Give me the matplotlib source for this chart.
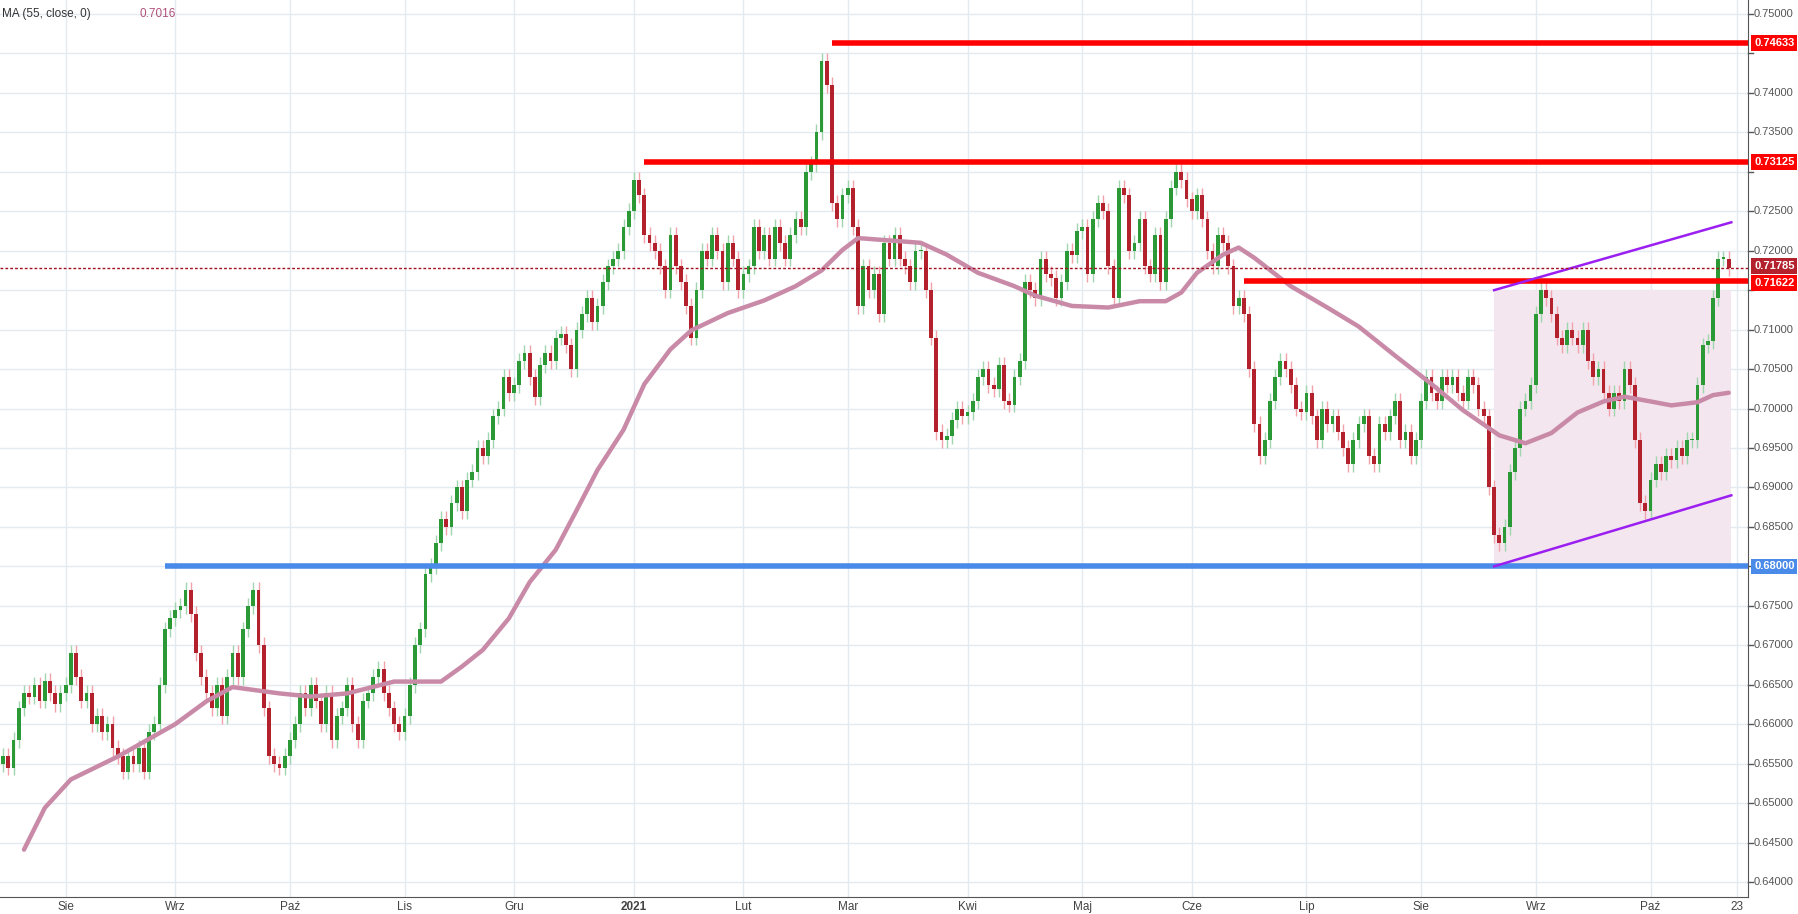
import numpy as np
import pandas as pd
import matplotlib
matplotlib.use("Agg")
import matplotlib.pyplot as plt

plt.rcParams["font.family"] = "Liberation Sans"

closes_by_month = {
    "2020-07": [0.6560,0.6545,0.6580,0.6620,0.6640,0.6635,0.6650,0.6630,0.6655,0.6640,0.6625,0.6640],
    "2020-08": [0.6650,0.6690,0.6660,0.6630,0.6640,0.6600,0.6610,0.6590,0.6600,0.6570,0.6560,0.6540,0.6560,0.6550,0.6570,0.6540,0.6590,0.6600,0.6650,0.6720,0.6735],
    "2020-09": [0.6745,0.6750,0.6770,0.6740,0.6690,0.6660,0.6640,0.6620,0.6650,0.6610,0.6660,0.6690,0.6660,0.6720,0.6750,0.6770,0.6700,0.6620,0.6560,0.6550,0.6545,0.6560],
    "2020-10": [0.6580,0.6600,0.6640,0.6620,0.6650,0.6630,0.6600,0.6640,0.6580,0.6610,0.6620,0.6650,0.6600,0.6580,0.6630,0.6640,0.6660,0.6670,0.6640,0.6620,0.6600,0.6590],
    "2020-11": [0.6610,0.6650,0.6700,0.6720,0.6790,0.6800,0.6830,0.6860,0.6850,0.6880,0.6900,0.6870,0.6910,0.6920,0.6950,0.6940,0.6960,0.6990,0.7000,0.7040,0.7020],
    "2020-12": [0.7030,0.7060,0.7070,0.7040,0.7015,0.7055,0.7070,0.7060,0.7090,0.7095,0.7080,0.7050,0.7100,0.7120,0.7140,0.7110,0.7130,0.7160,0.7180,0.7190,0.7200,0.7230,0.7250],
    "2021-01": [0.7290,0.7270,0.7220,0.7210,0.7200,0.7180,0.7150,0.7220,0.7180,0.7160,0.7130,0.7090,0.7150,0.7200,0.7190,0.7220,0.7200,0.7160,0.7210,0.7190,0.7150],
    "2021-02": [0.7170,0.7180,0.7230,0.7200,0.7220,0.7190,0.7230,0.7210,0.7190,0.7220,0.7240,0.7230,0.7300,0.7310,0.7350,0.7440,0.7410,0.7260,0.7240,0.7270],
    "2021-03": [0.7280,0.7230,0.7130,0.7180,0.7150,0.7170,0.7120,0.7210,0.7190,0.7220,0.7190,0.7180,0.7160,0.7200,0.7200,0.7150,0.7090,0.6970,0.6960,0.6965,0.6985,0.7000,0.6990],
    "2021-04": [0.6995,0.7010,0.7040,0.7050,0.7030,0.7025,0.7055,0.7010,0.7005,0.7040,0.7060,0.7160,0.7150,0.7140,0.7190,0.7170,0.7165,0.7140,0.7160,0.7200,0.7195,0.7225],
    "2021-05": [0.7230,0.7170,0.7240,0.7260,0.7250,0.7180,0.7140,0.7280,0.7270,0.7200,0.7210,0.7240,0.7180,0.7170,0.7220,0.7160,0.7240,0.7280,0.7300,0.7290,0.7265],
    "2021-06": [0.7250,0.7270,0.7240,0.7200,0.7180,0.7220,0.7210,0.7180,0.7130,0.7140,0.7120,0.7050,0.6980,0.6940,0.6960,0.7010,0.7040,0.7060,0.7050,0.7030,0.7000,0.6995],
    "2021-07": [0.7020,0.6990,0.6960,0.7000,0.6980,0.6990,0.6970,0.6950,0.6930,0.6960,0.6980,0.6990,0.6940,0.6930,0.6980,0.6970,0.6990,0.7010,0.6960,0.6970,0.6940,0.6960],
    "2021-08": [0.7010,0.7040,0.7020,0.7010,0.7040,0.7030,0.7040,0.7020,0.7010,0.7040,0.7030,0.7000,0.6990,0.6900,0.6840,0.6830,0.6850,0.6920,0.6950,0.7000,0.7010,0.7030],
    "2021-09": [0.7120,0.7150,0.7140,0.7120,0.7090,0.7080,0.7100,0.7090,0.7080,0.7100,0.7060,0.7040,0.7050,0.7020,0.7000,0.7020,0.7010,0.7050,0.7030,0.6960,0.6880,0.6870],
    "2021-10": [0.6910,0.6930,0.6920,0.6940,0.6935,0.6950,0.6940,0.6960,0.6960,0.7030,0.7080,0.7085,0.7140,0.7190,0.7190,0.71785],
}
first_open = 0.6550

ma_days = [4,8,13,22,33,39,44,53,59,66,75,84,88,92,97,101,106,110,114,119,123,128,132,139,146,152,157,161,164,170,176,181,187,194,198,205,212,218,223,226,229,234,237,240,247,254,260,267,274,280,287,292,297,302,307,311,316,320,325,328,331]
ma_vals = [0.6441,0.6494,0.6530,0.6559,0.6600,0.6629,0.6647,0.6639,0.6635,0.6639,0.6654,0.6654,0.6673,0.6694,0.6734,0.6780,0.6821,0.6871,0.6922,0.6973,0.7031,0.7075,0.7099,0.7121,0.7137,0.7155,0.7175,0.7201,0.7216,0.7213,0.7210,0.7195,0.7172,0.7155,0.7143,0.7130,0.7128,0.7136,0.7136,0.7147,0.7172,0.7195,0.7204,0.7191,0.7155,0.7128,0.7104,0.7067,0.7031,0.6998,0.6966,0.6956,0.6969,0.6995,0.7009,0.7015,0.7009,0.7004,0.7008,0.7017,0.7020]

red_levels = [0.74633, 0.73125, 0.71622]
red_starts = ["2021-02-24", "2021-01-05", "2021-06-15"]
blue_level = 0.68000
blue_start = "2020-08-28"
last_price = 0.71785
channel_dates = ["2021-08-20", "2021-10-22"]
channel_lower = [0.6800, 0.6890]
channel_upper = [0.7150, 0.7236]
month_labels = ["Sie","Wrz","Paź","Lis","Gru","2021","Lut","Mar","Kwi","Maj","Cze","Lip","Sie","Wrz","Paź"]

# ---- build
closes = []
for k in closes_by_month: closes += closes_by_month[k]
closes = np.array(closes)
dates = pd.bdate_range("2020-07-16", periods=len(closes))
opens = np.concatenate([[first_open], closes[:-1]])
n = len(closes)
idx = np.arange(n)
def di(d): return int(np.searchsorted(dates, pd.Timestamp(d)))

W, H = 1799, 914
fig = plt.figure(figsize=(W/100, H/100), dpi=100)
ax = fig.add_axes([0, 17/914, 1748/1799, 897/914])
ymin, ymax = 0.63810, 0.75177
ax.set_ylim(ymin, ymax)
ax.set_xlim(-0.6, 334.7)

for v in np.arange(0.640, 0.7501, 0.005):
    ax.axhline(v, color="#e3eaf0", lw=1, zorder=0)
month_pos = []
for y, m in [(2020,8),(2020,9),(2020,10),(2020,11),(2020,12),(2021,1),(2021,2),(2021,3),(2021,4),(2021,5),(2021,6),(2021,7),(2021,8),(2021,9),(2021,10)]:
    month_pos.append(di(f"{y}-{m:02d}-01"))
for p in month_pos + [n+0.5]:
    ax.axvline(p, color="#e3eaf0", lw=1, zorder=0)

c0, c1 = di(channel_dates[0]), di(channel_dates[1]) + 0.5
ax.fill_between([c0, c1], [channel_upper[0]]*2, [channel_lower[0]]*2, color="#f3e6ee", zorder=1, lw=0)

wick = 0.0010
gc, rc = "#2b9a36", "#b3212c"
for i in idx:
    o, c = opens[i], closes[i]
    up = c >= o
    lo, hi = min(o, c), max(o, c)
    col = gc if up else rc
    wcol = "#9fd6b0" if up else "#f2a2ab"
    ax.vlines(i, lo - wick, hi + wick, color=wcol, lw=1, zorder=2)
    ax.bar(i, max(hi - lo, 0.00015), bottom=lo, width=0.72, color=col, zorder=3, lw=0)

ax.plot(ma_days, ma_vals, color="#c98aa8", lw=3.2, zorder=4, solid_capstyle="round")

xr = 334.7
for lv, sd in zip(red_levels, red_starts):
    ax.hlines(lv, di(sd), xr, color="#ff0000", lw=4, zorder=5)
ax.hlines(blue_level, di(blue_start), xr, color="#4a8ae8", lw=4, zorder=5)
ax.plot([c0, c1], channel_lower, color="#9b1ff0", lw=1.8, zorder=5)
ax.plot([c0, c1], channel_upper, color="#9b1ff0", lw=1.8, zorder=5)
ax.axhline(last_price, color="#a01020", lw=1, ls=(0, (2, 1.5)), zorder=5)

ax.set_xticks([]); ax.set_yticks([])
for s in ["top", "left"]:
    ax.spines[s].set_visible(False)
ax.spines["right"].set_color("#555555")
ax.spines["bottom"].set_color("#555555")

trans = ax.get_yaxis_transform()
boxed = [0.74633, 0.73125, 0.71622, 0.68, last_price]
for v in np.arange(0.640, 0.7501, 0.005):
    ax.plot([1.0, 1.003], [v, v], transform=trans, color="#555555", lw=1, clip_on=False)
    if min(abs(v - b) for b in boxed) < 0.0015:
        continue
    ax.text(1.0035, v, f"{v:.5f}", transform=trans, va="center", ha="left", fontsize=8, color="#555555")
for lv, fc, off in [(0.74633, "#ff0000", 0), (0.73125, "#ff0000", 0), (0.71622, "#ff0000", -0.0003),
                    (0.68, "#4a8ae8", 0), (last_price, "#b3212c", 0.0002)]:
    ax.text(1.0035, lv + off, f"{lv:.5f}", transform=trans, va="center", ha="left", fontsize=8, color="white",
            fontweight="bold", bbox=dict(boxstyle="square,pad=0.25", fc=fc, ec="none"), zorder=10)

xt = ax.get_xaxis_transform()
for p, lab in zip(month_pos, month_labels):
    ax.text(p, -0.004, lab, transform=xt, ha="center", va="top", fontsize=8.5, color="#444444",
            fontweight="bold" if lab == "2021" else "normal")
ax.text(n + 0.5, -0.004, "23", transform=xt, ha="center", va="top", fontsize=8.5, color="#444444")

fig.text(2/1799, 1 - 14/914, "MA (55, close, 0)", fontsize=8.5, color="#333333", va="center")
fig.text(140/1799, 1 - 14/914, "0.7016", fontsize=8.5, color="#b0507a", va="center")

fig.savefig("out.png", dpi=100, facecolor="white")
